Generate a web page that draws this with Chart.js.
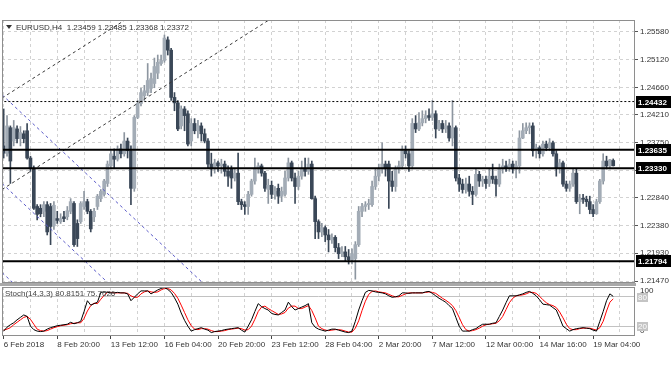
<!DOCTYPE html>
<html><head><meta charset="utf-8">
<script src="https://cdn.jsdelivr.net/npm/chart.js@4.4.1/dist/chart.umd.min.js"></script>
<style>
html,body{margin:0;padding:0;background:#fff;}
#wrap{position:relative;width:672px;height:372px;overflow:hidden;background:#fff;}
canvas{position:absolute;left:0;}
#main{top:0;}
#stoch{top:286px;}
</style></head><body>
<div id="wrap"><canvas id="main" width="672" height="286"></canvas><canvas id="stoch" width="672" height="86"></canvas></div>
<script>
const titleText = 'EURUSD,H4  1.23459 1.23485 1.23368 1.23372';
const stochTitle = 'Stoch(14,3,3) 80.8151 75.7626';

const opens = [
1.2370,1.2358,1.2400,1.2378,1.2398,1.2382,1.2390,1.2395,1.2350,1.2333,
1.2270,1.2267,1.2262,1.2273,1.2270,1.2238,1.2250,1.2245,1.2253,1.2253,
1.2262,1.2275,1.2242,1.2245,1.2270,1.2278,1.2262,1.2253,1.2270,1.2283,
1.2290,1.2308,1.2337,1.2353,1.2348,1.2365,1.2357,1.2378,1.2362,1.2300,
1.2417,1.2440,1.2453,1.2458,1.2465,1.2473,1.2490,1.2506,1.2511,1.2545,
1.2528,1.2450,1.2441,1.2403,1.2431,1.2423,1.2378,1.2407,1.2395,1.2403,
1.2390,1.2378,1.2340,1.2332,1.2342,1.2337,1.2340,1.2328,1.2332,1.2317,
1.2325,1.2278,1.2273,1.2270,1.2290,1.2312,1.2332,1.2337,1.2325,1.2298,
1.2305,1.2290,1.2300,1.2287,1.2290,1.2317,1.2342,1.2317,1.2303,1.2320,
1.2333,1.2328,1.2340,1.2283,1.2245,1.2228,1.2235,1.2223,1.2215,1.2219,
1.2202,1.2192,1.2195,1.2187,1.2182,1.2184,1.2207,1.2262,1.2270,1.2273,
1.2273,1.2303,1.2320,1.2332,1.2340,1.2340,1.2312,1.2303,1.2332,1.2337,
1.2362,1.2357,1.2337,1.2407,1.2398,1.2408,1.2415,1.2420,1.2417,1.2423,
1.2398,1.2407,1.2398,1.2403,1.2383,1.2400,1.2317,1.2307,1.2298,1.2307,
1.2295,1.2290,1.2323,1.2312,1.2315,1.2308,1.2320,1.2315,1.2307,1.2332,
1.2337,1.2333,1.2340,1.2332,1.2337,1.2383,1.2395,1.2400,1.2403,1.2362,
1.2367,1.2357,1.2373,1.2367,1.2375,1.2357,1.2333,1.2342,1.2307,1.2300,
1.2307,1.2325,1.2278,1.2283,1.2282,1.2278,1.2265,1.2258,1.2278,1.2312,
1.2345,1.2337,1.23459];
const highs = [
1.2431,1.2420,1.2403,1.2412,1.2403,1.2402,1.2395,1.2407,1.2353,1.2337,
1.2273,1.2273,1.2278,1.2278,1.2275,1.2278,1.2262,1.2258,1.2262,1.2270,
1.2283,1.2278,1.2248,1.2278,1.2295,1.2282,1.2265,1.2267,1.2290,1.2298,
1.2315,1.2345,1.2362,1.2365,1.2370,1.2373,1.2392,1.2383,1.2370,1.2420,
1.2445,1.2465,1.2470,1.2506,1.2490,1.2515,1.2520,1.2520,1.2553,1.2550,
1.2531,1.2458,1.2445,1.2436,1.2435,1.2428,1.2415,1.2415,1.2412,1.2408,
1.2398,1.2382,1.2358,1.2348,1.2345,1.2348,1.2345,1.2337,1.2337,1.2332,
1.2358,1.2282,1.2278,1.2295,1.2315,1.2350,1.2342,1.2340,1.2328,1.2315,
1.2312,1.2303,1.2307,1.2302,1.2328,1.2350,1.2345,1.2325,1.2328,1.2345,
1.2350,1.2350,1.2345,1.2287,1.2248,1.2242,1.2238,1.2232,1.2225,1.2222,
1.2209,1.2204,1.2204,1.2199,1.2200,1.2212,1.2270,1.2275,1.2278,1.2282,
1.2312,1.2333,1.2340,1.2375,1.2345,1.2345,1.2328,1.2337,1.2345,1.2370,
1.2370,1.2362,1.2415,1.2420,1.2425,1.2428,1.2428,1.2431,1.2445,1.2428,
1.2412,1.2412,1.2412,1.2408,1.2445,1.2403,1.2323,1.2315,1.2317,1.2320,
1.2303,1.2332,1.2328,1.2320,1.2320,1.2332,1.2340,1.2320,1.2340,1.2348,
1.2345,1.2348,1.2345,1.2345,1.2395,1.2407,1.2408,1.2408,1.2408,1.2373,
1.2370,1.2378,1.2378,1.2382,1.2378,1.2362,1.2348,1.2345,1.2312,1.2312,
1.2333,1.2333,1.2290,1.2290,1.2287,1.2287,1.2273,1.2282,1.2315,1.2357,
1.2353,1.2348,1.23485];
const lows = [
1.2350,1.2353,1.2308,1.2370,1.2375,1.2370,1.2375,1.2348,1.2328,1.2265,
1.2248,1.2253,1.2253,1.2223,1.2207,1.2232,1.2242,1.2242,1.2245,1.2248,
1.2258,1.2204,1.2204,1.2242,1.2265,1.2258,1.2228,1.2245,1.2265,1.2278,
1.2287,1.2303,1.2332,1.2333,1.2345,1.2350,1.2353,1.2350,1.2273,1.2295,
1.2415,1.2436,1.2445,1.2453,1.2458,1.2466,1.2481,1.2503,1.2508,1.2520,
1.2445,1.2428,1.2395,1.2398,1.2395,1.2370,1.2370,1.2390,1.2383,1.2378,
1.2375,1.2333,1.2320,1.2325,1.2328,1.2325,1.2320,1.2303,1.2300,1.2312,
1.2273,1.2265,1.2257,1.2257,1.2287,1.2307,1.2325,1.2320,1.2295,1.2275,
1.2283,1.2282,1.2275,1.2278,1.2287,1.2312,1.2312,1.2275,1.2298,1.2315,
1.2320,1.2323,1.2282,1.2217,1.2217,1.2220,1.2212,1.2195,1.2209,1.2195,
1.2184,1.2187,1.2179,1.2175,1.2175,1.2150,1.2204,1.2253,1.2262,1.2265,
1.2270,1.2298,1.2312,1.2325,1.2320,1.2267,1.2295,1.2295,1.2325,1.2332,
1.2350,1.2328,1.2332,1.2392,1.2395,1.2403,1.2408,1.2412,1.2412,1.2383,
1.2395,1.2392,1.2392,1.2378,1.2370,1.2312,1.2295,1.2292,1.2292,1.2287,
1.2273,1.2287,1.2303,1.2303,1.2300,1.2303,1.2308,1.2287,1.2303,1.2325,
1.2328,1.2328,1.2325,1.2317,1.2325,1.2382,1.2390,1.2390,1.2353,1.2350,
1.2350,1.2353,1.2362,1.2362,1.2353,1.2320,1.2325,1.2303,1.2295,1.2295,
1.2303,1.2275,1.2258,1.2275,1.2270,1.2258,1.2253,1.2257,1.2275,1.2307,
1.2332,1.2332,1.23368];
const closes = [
1.2358,1.2403,1.2345,1.2400,1.2382,1.2392,1.2382,1.2350,1.2333,1.2267,
1.2257,1.2258,1.2273,1.2228,1.2237,1.2272,1.2247,1.2250,1.2250,1.2263,
1.2278,1.2207,1.2217,1.2275,1.2278,1.2262,1.2233,1.2262,1.2287,1.2295,
1.2312,1.2340,1.2357,1.2348,1.2365,1.2357,1.2378,1.2362,1.2300,1.2417,
1.2440,1.2458,1.2461,1.2478,1.2481,1.2501,1.2508,1.2511,1.2548,1.2528,
1.2450,1.2441,1.2398,1.2431,1.2420,1.2373,1.2407,1.2395,1.2403,1.2390,
1.2378,1.2340,1.2332,1.2342,1.2337,1.2340,1.2328,1.2320,1.2317,1.2325,
1.2278,1.2273,1.2270,1.2290,1.2312,1.2332,1.2337,1.2325,1.2300,1.2305,
1.2290,1.2295,1.2287,1.2295,1.2317,1.2342,1.2317,1.2303,1.2320,1.2333,
1.2328,1.2340,1.2283,1.2245,1.2228,1.2235,1.2223,1.2215,1.2219,1.2202,
1.2192,1.2195,1.2187,1.2182,1.2192,1.2207,1.2262,1.2270,1.2273,1.2275,
1.2303,1.2320,1.2332,1.2340,1.2332,1.2312,1.2303,1.2332,1.2337,1.2362,
1.2357,1.2337,1.2407,1.2398,1.2408,1.2415,1.2420,1.2417,1.2423,1.2398,
1.2407,1.2398,1.2403,1.2383,1.2400,1.2317,1.2307,1.2298,1.2307,1.2295,
1.2290,1.2323,1.2312,1.2315,1.2308,1.2320,1.2315,1.2307,1.2332,1.2337,
1.2333,1.2340,1.2332,1.2337,1.2383,1.2395,1.2400,1.2403,1.2362,1.2367,
1.2357,1.2373,1.2367,1.2375,1.2357,1.2333,1.2342,1.2307,1.2300,1.2307,
1.2325,1.2278,1.2283,1.2282,1.2278,1.2265,1.2258,1.2278,1.2312,1.2345,
1.2337,1.2347,1.23372];

const stochK = [10,18,23,27,33,38,43,40,20,13, 10,9,10,14,17,19,21,22,23,24,
28,25,27,30,50,72,63,66,69,89, 90,89,88,88,89,88,88,86,72,79,
86,92,92,92,86,90,94,97,99,95, 89,78,65,47,32,20,10,13,15,17,
14,12,7,9,10,11,13,14,15,16, 17,12,8,20,33,50,66,60,56,53,
46,44,43,48,53,69,60,53,56,59, 62,66,27,18,14,12,10,12,14,14,
12,10,8,7,10,30,53,72,89,93, 92,90,89,88,86,82,79,80,82,88,
88,87,88,88,88,88,90,91,87,82, 77,73,69,62,56,38,20,10,10,10,
13,15,20,24,24,24,26,27,40,53, 68,82,82,82,84,86,89,91,87,82,
74,65,64,63,58,53,37,20,15,10, 13,15,16,17,16,15,12,10,30,50,
72,86,80.8151];
const stochD = [12,14,17,23,28,33,38,40,34,24, 14,11,10,11,14,17,19,21,22,23,
25,26,27,27,36,51,62,67,66,75, 83,89,89,88,88,88,88,87,82,79,
79,86,90,92,90,89,90,94,97,97, 94,87,77,63,48,33,21,14,13,15,
15,14,11,9,9,10,11,13,14,15, 16,15,12,13,20,34,50,59,61,56,
52,48,44,45,48,57,61,61,56,56, 59,62,52,37,20,15,12,11,12,13,
13,12,10,8,8,16,31,52,71,85, 91,92,90,89,88,85,82,80,80,83,
86,88,88,88,88,88,89,90,89,87, 82,77,73,68,62,52,38,23,13,10,
11,13,16,20,23,24,25,26,31,40, 54,68,77,82,83,84,86,89,89,87,
81,74,68,64,62,58,49,37,24,15, 13,13,15,16,16,16,14,12,17,30,
51,69,75.7626];

const dateLabels = ['6 Feb 2018','8 Feb 20:00','13 Feb 12:00','16 Feb 04:00','20 Feb 20:00','23 Feb 12:00','28 Feb 04:00','2 Mar 20:00','7 Mar 12:00','12 Mar 00:00','14 Mar 16:00','19 Mar 04:00'];
const priceTicks = [1.25580,1.25120,1.24660,1.24210,1.23750,1.23290,1.22840,1.22380,1.21930,1.21470];
const levelDotted = [1.24432];
const levelSolid = [1.23635,1.23330,1.21794];
const trendBlack = [[[-0.5,1.2449],[40,1.2591]], [[-0.5,1.2298],[80,1.25806]]];
const trendBlue = [[[-0.5,1.24545],[65,1.21152]], [[-0.5,1.2308],[36,1.21189]], [[-0.5,1.2161],[8,1.2117]]];

const FONT = '"Liberation Sans", Arial, sans-serif';
Chart.defaults.font.family = FONT;
Chart.defaults.font.size = 8;
Chart.defaults.color = '#333';
Chart.defaults.animation = false;

const SLOTS_MIN = -0.5, SLOTS_MAX = 188.5;
const idx = opens.map((_, i) => i);
const isBull = i => closes[i] >= opens[i];
const BULL = '#a3acb6', BEAR = '#3a4757', BULLWICK = '#8d96a0';

const lineDs = (pts, color, width, dash) => ({
  type: 'line', data: pts.map(p => ({x: p[0], y: p[1]})), borderColor: color,
  borderWidth: width, borderDash: dash, pointRadius: 0, order: 0, tension: 0
});
const mainDatasets = [
  { type: 'bar', data: idx.map(i => ({x: i, y: [Math.min(opens[i], closes[i]), Math.max(opens[i], closes[i])]})),
    backgroundColor: c => isBull(c.dataIndex) ? BULL : BEAR, barThickness: 3, minBarLength: 1, grouped: false, order: 1 },
  { type: 'bar', data: idx.map(i => ({x: i, y: [lows[i], highs[i]]})),
    backgroundColor: c => isBull(c.dataIndex) ? BULLWICK : BEAR, barThickness: 1, grouped: false, order: 2 }
];
levelDotted.forEach(v => mainDatasets.push(lineDs([[-1, v], [200, v]], '#000', 1, [2, 2])));
levelSolid.forEach(v => mainDatasets.push(lineDs([[-1, v], [200, v]], '#000', 2, [])));
trendBlack.forEach(t => mainDatasets.push(lineDs(t, '#3a3a3a', 1, [3, 3])));
trendBlue.forEach(t => mainDatasets.push(lineDs(t, '#5a5ac8', 1, [3, 3])));

const noPad = s => { s.paddingTop = 0; s.paddingBottom = 0; s.paddingLeft = 0; s.paddingRight = 0; };

const mainDecor = {
  id: 'mainDecor',
  afterDraw(chart) {
    const {ctx, chartArea: a} = chart;
    const y = chart.scales.y;
    ctx.save();
    ctx.fillStyle = '#a9a9a9';
    ctx.fillRect(0, a.bottom, a.right + 1, 3);
    ctx.strokeStyle = '#8e8e8e'; ctx.lineWidth = 1;
    ctx.strokeRect(a.left + 0.5, a.top + 0.5, a.right - a.left - 1, a.bottom - a.top - 1);
    // title
    ctx.fillStyle = '#333';
    ctx.beginPath(); ctx.moveTo(6, 25); ctx.lineTo(12, 25); ctx.lineTo(9, 29); ctx.closePath(); ctx.fill();
    ctx.font = '8px ' + FONT; ctx.textBaseline = 'middle'; ctx.textAlign = 'left';
    ctx.fillText(titleText, 16, 27.5);
    // level labels
    levelDotted.concat(levelSolid).forEach(v => {
      const py = Math.round(y.getPixelForValue(v));
      ctx.fillStyle = '#000'; ctx.fillRect(636, py - 6, 35, 12);
      ctx.fillStyle = '#fff'; ctx.font = 'bold 8px ' + FONT;
      ctx.fillText(v.toFixed(5), 638, py + 0.5);
    });
    ctx.restore();
  }
};

new Chart(document.getElementById('main'), {
  type: 'bar',
  data: { datasets: mainDatasets },
  options: {
    responsive: false, devicePixelRatio: 1, animation: false,
    layout: { padding: { left: 2, top: 20, right: 0, bottom: 3 } },
    plugins: { legend: { display: false }, tooltip: { enabled: false } },
    scales: {
      x: { type: 'linear', min: SLOTS_MIN, max: SLOTS_MAX, offset: false,
        afterBuildTicks: s => { const t = []; for (let v = 0; v <= 184; v += 8) t.push({value: v}); s.ticks = t; },
        ticks: { display: false }, grid: { color: '#d2d2d2', drawTicks: false, offset: false },
        border: { display: false, dash: [3, 3] }, afterFit: s => { s.height = 0; noPad(s); } },
      y: { position: 'right', min: 1.21437, max: 1.25778,
        afterBuildTicks: s => { s.ticks = priceTicks.map(v => ({value: v})); },
        ticks: { callback: v => Number(v).toFixed(5), color: '#333', padding: 2, font: { size: 8 } },
        grid: { color: '#d2d2d2', tickLength: 3, tickColor: '#555' },
        border: { display: false, dash: [3, 3] }, afterFit: s => { s.width = 37; noPad(s); } }
    }
  },
  plugins: [mainDecor]
});

const stochDecor = {
  id: 'stochDecor',
  afterDraw(chart) {
    const {ctx, chartArea: a} = chart;
    ctx.save();
    ctx.strokeStyle = '#8e8e8e'; ctx.lineWidth = 1;
    ctx.strokeRect(a.left + 0.5, a.top + 0.5, a.right - a.left - 1, a.bottom - a.top - 1);
    ctx.font = '8px ' + FONT; ctx.textBaseline = 'middle'; ctx.textAlign = 'left';
    ctx.fillStyle = '#444';
    ctx.fillText(stochTitle, 5, 7.5);
    ctx.fillStyle = '#333';
    ctx.fillText('100', 640, 5);
    ctx.fillText('0', 640, 45);
    [[80, 11], [20, 40]].forEach(([v, py]) => {
      ctx.fillStyle = '#c4c4c4'; ctx.fillRect(637, py - 4, 11, 9);
      ctx.fillStyle = '#fff'; ctx.fillText(String(v), 638, py + 0.5);
    });
    ctx.restore();
  }
};

new Chart(document.getElementById('stoch'), {
  type: 'line',
  data: { datasets: [
    { data: idx.map(i => ({x: i, y: stochK[i]})), borderColor: '#000', borderWidth: 1, pointRadius: 0, tension: 0, order: 0 },
    { data: idx.map(i => ({x: i, y: stochD[i]})), borderColor: '#ff0000', borderWidth: 1, pointRadius: 0, tension: 0, order: 1 }
  ] },
  options: {
    responsive: false, devicePixelRatio: 1, animation: false,
    layout: { padding: { left: 2, top: 1, right: 0, bottom: 0 } },
    plugins: { legend: { display: false }, tooltip: { enabled: false } },
    scales: {
      x: { type: 'linear', min: SLOTS_MIN, max: SLOTS_MAX, offset: false,
        afterBuildTicks: s => { const t = []; for (let v = 0; v <= 184; v += 8) t.push({value: v}); s.ticks = t; },
        ticks: { autoSkip: false, maxRotation: 0, align: 'start', padding: 1, color: '#333',
          callback: v => (v % 16 === 0 ? dateLabels[v / 16] : '') },
        grid: { color: '#d2d2d2', tickLength: 3,
          tickColor: c => (c.tick && c.tick.value % 16 === 0) ? '#444' : 'rgba(0,0,0,0)' },
        border: { display: false, dash: [3, 3] }, afterFit: s => { s.height = 36; noPad(s); } },
      y: { position: 'right', min: 0, max: 100,
        afterBuildTicks: s => { s.ticks = [{value: 20}, {value: 80}]; },
        ticks: { display: false }, grid: { color: '#c2c2c2', drawTicks: false },
        border: { display: false }, afterFit: s => { s.width = 37; noPad(s); } }
    }
  },
  plugins: [stochDecor]
});
</script>
</body></html>
